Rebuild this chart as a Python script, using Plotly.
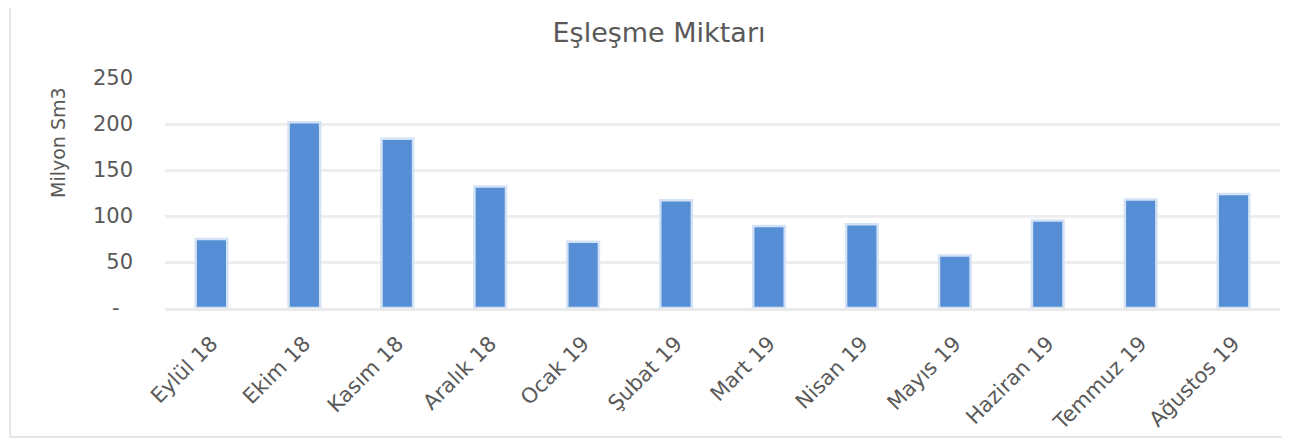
import plotly.graph_objects as go

categories = ["Eylül 18", "Ekim 18", "Kasım 18", "Aralık 18", "Ocak 19", "Şubat 19",
              "Mart 19", "Nisan 19", "Mayıs 19", "Haziran 19", "Temmuz 19", "Ağustos 19"]
values = [75, 202, 184, 132, 72, 117, 89, 91, 57, 95, 118, 124]
y_tickvals = [0, 50, 100, 150, 200, 250]
y_ticktext = ["-\u00a0\u00a0", "50", "100", "150", "200", "250"]

FONT = "DejaVu Sans"
GRAY = "#595959"

# page body has an 8px margin; figure coordinates are offset accordingly
W, H = 1282, 434
PL, PR, PT, PB = 157, 1272, 70, 300  # plot area in figure pixels
PW, PH = PR - PL, PB - PT

fig = go.Figure()
fig.add_trace(go.Bar(
    x=categories, y=values,
    marker=dict(color="#558ED5", line=dict(color="#D3E2F5", width=2.5)),
    width=0.34,
))

fig.update_layout(
    width=W, height=H,
    margin=dict(l=PL, r=W - PR, t=PT, b=H - PB, autoexpand=False),
    paper_bgcolor="white", plot_bgcolor="white",
    showlegend=False,
    font=dict(family=FONT, color=GRAY),
    title=dict(text="Eşleşme Miktarı", x=(659 - 8) / W, xref="container", xanchor="center",
               y=1 - 25 / H, yref="container", yanchor="middle",
               font=dict(size=27, color=GRAY, family=FONT)),
    xaxis=dict(tickangle=-45, tickfont=dict(size=21, color=GRAY), showgrid=False,
               showline=True, linecolor="#EAEAEA", linewidth=3, ticks="",
               ticklabelstandoff=12),
    yaxis=dict(range=[0, 250], tickvals=y_tickvals, ticktext=y_ticktext,
               tickfont=dict(size=21, color=GRAY), gridcolor="#EEEEEE", gridwidth=2.5,
               zeroline=False, showline=False, ticks="", ticklabelstandoff=31),
    annotations=[dict(text="Milyon Sm3", textangle=-90,
                      x=(58 - 8 - PL) / PW, y=(PB - (143 - 8)) / PH,
                      xref="paper", yref="paper", xanchor="center", yanchor="middle",
                      showarrow=False,
                      font=dict(size=19, color=GRAY, family=FONT))],
    shapes=[dict(type="rect", xref="paper", yref="paper",
                 x0=(10 - 8 - PL) / PW, x1=(1284 - 8 - PL) / PW,
                 y0=(PB - (437 - 8)) / PH, y1=(PB - (3 - 8)) / PH,
                 line=dict(color="#E6E6E6", width=2), layer="below")],
)

fig.write_html("out.html")
